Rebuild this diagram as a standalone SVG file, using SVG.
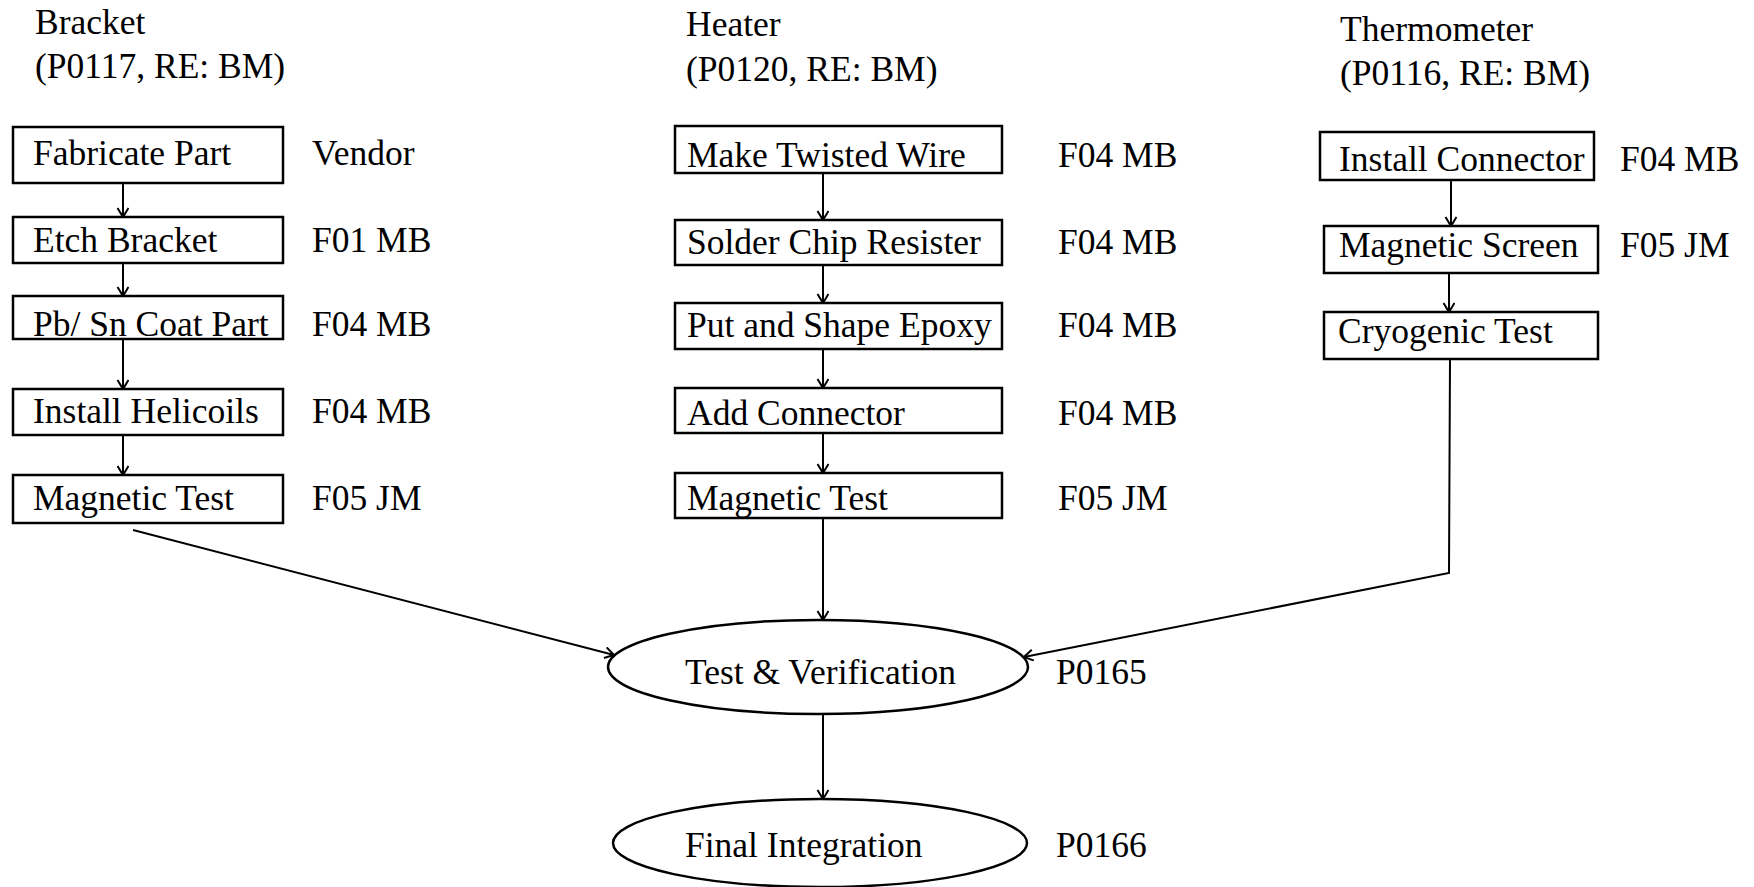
<svg xmlns="http://www.w3.org/2000/svg" width="1754" height="887" viewBox="0 0 1754 887">
  <defs>
    <style>
      text { font-family: "Liberation Serif", "Times New Roman", serif; font-size: 35.5px; fill: #000; }
      .box { fill: #fff; stroke: #000; stroke-width: 2.5; }
      .oval { fill: #fff; stroke: #000; stroke-width: 2.5; }
      .link { fill: none; stroke: #000; stroke-width: 2; marker-end: url(#chevron); }
      .link-plain { fill: none; stroke: #000; stroke-width: 2; }
    </style>
    <!-- open V-shaped arrowhead, tip at the end of the line -->
    <marker id="chevron" markerUnits="userSpaceOnUse" markerWidth="14" markerHeight="14" refX="10" refY="6" orient="auto">
      <path d="M1,0.5 L10,6 L1,11.5" fill="none" stroke="#000" stroke-width="2"/>
    </marker>
  </defs>
  <rect width="1754" height="887" fill="#fff"/>

  <!-- column headings -->
  <g id="heading-bracket">
    <text x="35" y="34">Bracket</text>
    <text x="35" y="78">(P0117, RE: BM)</text>
  </g>
  <g id="heading-heater">
    <text x="686" y="36">Heater</text>
    <text x="686" y="81">(P0120, RE: BM)</text>
  </g>
  <g id="heading-thermometer">
    <text x="1340" y="41">Thermometer</text>
    <text x="1340" y="85">(P0116, RE: BM)</text>
  </g>

  <!-- connectors -->
  <g id="connectors">
    <!-- bracket chain -->
    <line class="link" x1="123" y1="183" x2="123" y2="217"/>
    <line class="link" x1="123" y1="263" x2="123" y2="296"/>
    <line class="link" x1="123" y1="339" x2="123" y2="389"/>
    <line class="link" x1="123" y1="435" x2="123" y2="475"/>
    <line class="link" x1="133" y1="530" x2="614" y2="655"/>
    <!-- heater chain -->
    <line class="link" x1="823" y1="173" x2="823" y2="220"/>
    <line class="link" x1="823" y1="265" x2="823" y2="303"/>
    <line class="link" x1="823" y1="349" x2="823" y2="388"/>
    <line class="link" x1="823" y1="433" x2="823" y2="473"/>
    <line class="link" x1="823" y1="518" x2="823" y2="620"/>
    <!-- thermometer chain -->
    <line class="link" x1="1451" y1="180" x2="1451" y2="226"/>
    <line class="link" x1="1449" y1="273" x2="1449" y2="312"/>
    <polyline class="link" points="1450,359 1449,573 1024,657"/>
    <!-- integration -->
    <line class="link" x1="823" y1="714" x2="823" y2="799"/>
  </g>

  <!-- Bracket column -->
  <g id="fabricate-part">
    <rect class="box" x="13" y="127" width="270" height="56"/>
    <text x="33" y="165">Fabricate Part</text>
    <text x="312" y="165">Vendor</text>
  </g>
  <g id="etch-bracket">
    <rect class="box" x="13" y="217" width="270" height="46"/>
    <text x="33" y="252">Etch Bracket</text>
    <text x="312" y="252">F01 MB</text>
  </g>
  <g id="pb-sn-coat-part">
    <rect class="box" x="13" y="296" width="270" height="43"/>
    <text x="33" y="336">Pb/ Sn Coat Part</text>
    <text x="312" y="336">F04 MB</text>
  </g>
  <g id="install-helicoils">
    <rect class="box" x="13" y="389" width="270" height="46"/>
    <text x="33" y="423">Install Helicoils</text>
    <text x="312" y="423">F04 MB</text>
  </g>
  <g id="bracket-magnetic-test">
    <rect class="box" x="13" y="475" width="270" height="48"/>
    <text x="33" y="510">Magnetic Test</text>
    <text x="312" y="510">F05 JM</text>
  </g>

  <!-- Heater column -->
  <g id="make-twisted-wire">
    <rect class="box" x="675" y="126" width="327" height="47"/>
    <text x="687" y="167">Make Twisted Wire</text>
    <text x="1058" y="167">F04 MB</text>
  </g>
  <g id="solder-chip-resister">
    <rect class="box" x="675" y="220" width="327" height="45"/>
    <text x="687" y="254">Solder Chip Resister</text>
    <text x="1058" y="254">F04 MB</text>
  </g>
  <g id="put-and-shape-epoxy">
    <rect class="box" x="675" y="303" width="327" height="46"/>
    <text x="687" y="337">Put and Shape Epoxy</text>
    <text x="1058" y="337">F04 MB</text>
  </g>
  <g id="add-connector">
    <rect class="box" x="675" y="388" width="327" height="45"/>
    <text x="687" y="425">Add Connector</text>
    <text x="1058" y="425">F04 MB</text>
  </g>
  <g id="heater-magnetic-test">
    <rect class="box" x="675" y="473" width="327" height="45"/>
    <text x="687" y="510">Magnetic Test</text>
    <text x="1058" y="510">F05 JM</text>
  </g>

  <!-- Thermometer column -->
  <g id="install-connector">
    <rect class="box" x="1320" y="132" width="274" height="48"/>
    <text x="1339" y="171">Install Connector</text>
    <text x="1620" y="171">F04 MB</text>
  </g>
  <g id="magnetic-screen">
    <rect class="box" x="1324" y="226" width="274" height="47"/>
    <text x="1339" y="257">Magnetic Screen</text>
    <text x="1620" y="257">F05 JM</text>
  </g>
  <g id="cryogenic-test">
    <rect class="box" x="1324" y="312" width="274" height="47"/>
    <text x="1338" y="343">Cryogenic Test</text>
  </g>

  <!-- integration steps -->
  <g id="test-verification">
    <ellipse class="oval" cx="818" cy="667" rx="210" ry="47"/>
    <text x="685" y="684">Test &amp; Verification</text>
    <text x="1056" y="684">P0165</text>
  </g>
  <g id="final-integration">
    <ellipse class="oval" cx="820" cy="843" rx="207" ry="44"/>
    <text x="685" y="857">Final Integration</text>
    <text x="1056" y="857">P0166</text>
  </g>
</svg>
